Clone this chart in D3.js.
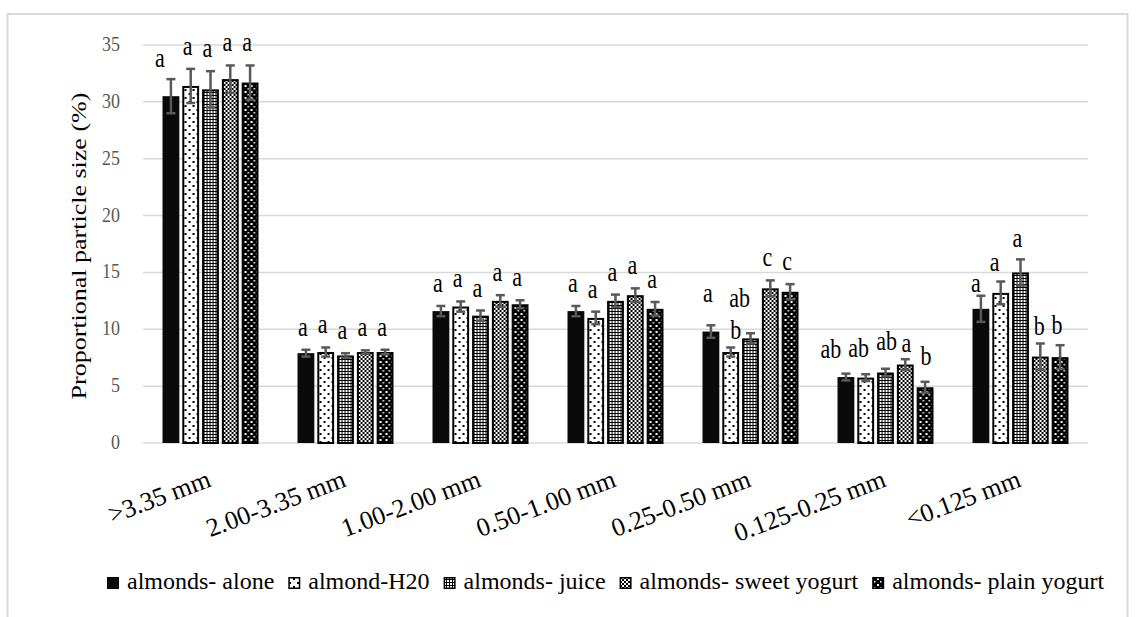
<!DOCTYPE html>
<html>
<head>
<meta charset="utf-8">
<script src="https://cdn.jsdelivr.net/npm/d3@7"></script>
<style>
  html, body { margin: 0; padding: 0; background: #fff; }
  svg text { font-family: "Liberation Serif", "DejaVu Serif", serif; }
</style>
</head>
<body>
<svg id="chart" width="1138" height="617"></svg>
<script>
// Particle size classes (x categories)
const categories = [">3.35 mm", "2.00-3.35 mm", "1.00-2.00 mm", "0.50-1.00 mm", "0.25-0.50 mm", "0.125-0.25 mm", "<0.125 mm"];

// Treatments
const seriesNames = ["almonds- alone", "almond-H20", "almonds- juice", "almonds- sweet yogurt", "almonds- plain yogurt"];

// Mean proportional particle size (%) per treatment, one value per category
const alone       = [30.5, 7.9, 11.6, 11.6, 9.8, 5.8, 11.8];
const water       = [31.4, 8.0, 12.0, 11.0, 8.0, 5.75, 13.2];
const juice       = [31.1, 7.7, 11.2, 12.5, 9.2, 6.2, 15.0];
const sweetYogurt = [32.0, 8.0, 12.5, 13.0, 13.6, 6.9, 7.6];
const plainYogurt = [31.7, 8.0, 12.2, 11.8, 13.3, 4.9, 7.55];

// Error bar half-widths (%)
const aloneErr       = [1.5, 0.3, 0.45, 0.45, 0.55, 0.3, 1.15];
const waterErr       = [1.5, 0.4, 0.45, 0.55, 0.4, 0.3, 1.0];
const juiceErr       = [1.6, 0.2, 0.45, 0.55, 0.45, 0.33, 1.15];
const sweetYogurtErr = [1.2, 0.15, 0.5, 0.6, 0.7, 0.47, 1.15];
const plainYogurtErr = [1.5, 0.2, 0.35, 0.6, 0.67, 0.48, 1.05];

// Significance letters
const aloneSig       = ["a", "a", "a", "a", "a", "ab", "a"];
const waterSig       = ["a", "a", "a", "a", "b", "ab", "a"];
const juiceSig       = ["a", "a", "a", "a", "ab", "ab", "a"];
const sweetYogurtSig = ["a", "a", "a", "a", "c", "a", "b"];
const plainYogurtSig = ["a", "a", "a", "a", "c", "b", "b"];

// Y axis ticks
const yTicks = [0, 5, 10, 15, 20, 25, 30, 35];

const values  = [alone, water, juice, sweetYogurt, plainYogurt];
const errors  = [aloneErr, waterErr, juiceErr, sweetYogurtErr, plainYogurtErr];
const letters = [aloneSig, waterSig, juiceSig, sweetYogurtSig, plainYogurtSig];

const SERIF = "'Liberation Serif', 'DejaVu Serif', serif";

// Hand placement of crowded letters: key "category-series" -> [dx, dy]
const letterNudge = {
  "0-0": [-8, 2],
  "4-0": [0, -9], "4-1": [8, 6], "4-2": [-8, -12],
  "5-0": [-12, -2], "5-1": [-4, -3], "5-2": [4, -5], "5-3": [4, 7], "5-4": [4, -3],
  "6-0": [-2, 10], "6-1": [-3, 3], "6-2": [0, 2], "6-3": [2, 5], "6-4": [0, 3]
};

const svg = d3.select("#chart").attr("font-family", SERIF);
const defs = svg.append("defs");

// Fill patterns for the five treatments
function pattern(id, size, bg, draw) {
  const p = defs.append("pattern")
    .attr("id", id).attr("patternUnits", "userSpaceOnUse")
    .attr("width", size).attr("height", size);
  p.append("rect").attr("width", size).attr("height", size).attr("fill", bg);
  draw(p);
}
pattern("pWater", 8, "#fff", p => {
  p.append("rect").attr("x", 1).attr("y", 1).attr("width", 2).attr("height", 2).attr("fill", "#000");
  p.append("rect").attr("x", 5).attr("y", 5).attr("width", 2).attr("height", 2).attr("fill", "#000");
});
pattern("pJuice", 3, "#000", p => {
  p.append("rect").attr("x", 0).attr("y", 0).attr("width", 2).attr("height", 2).attr("fill", "#fff");
});
pattern("pSweet", 4, "#fff", p => {
  p.append("rect").attr("x", 0).attr("y", 0).attr("width", 2).attr("height", 2).attr("fill", "#000");
  p.append("rect").attr("x", 2).attr("y", 2).attr("width", 2).attr("height", 2).attr("fill", "#000");
});
pattern("pPlain", 6, "#000", p => {
  p.append("rect").attr("x", 1).attr("y", 1).attr("width", 2).attr("height", 2).attr("fill", "#fff");
  p.append("rect").attr("x", 4).attr("y", 4).attr("width", 1.5).attr("height", 1.5).attr("fill", "#fff");
});
const fills = ["#0a0a0a", "url(#pWater)", "url(#pJuice)", "url(#pSweet)", "url(#pPlain)"];

// Outer chart border
svg.append("rect")
  .attr("x", 7.5).attr("y", 14).attr("width", 1120).attr("height", 620)
  .attr("fill", "none").attr("stroke", "#d9d9d9").attr("stroke-width", 2);

const plot = { left: 143, right: 1088, top: 45, bottom: 443 };

const y = d3.scaleLinear().domain([0, 35]).range([plot.bottom, plot.top]);
const x0 = d3.scaleBand().domain(d3.range(categories.length))
  .range([plot.left, plot.right]).paddingInner(0.245).paddingOuter(0.1225);
const x1 = d3.scaleBand().domain(d3.range(seriesNames.length))
  .range([0, x0.bandwidth()]).padding(0.15);

// Gridlines
svg.append("g").selectAll("line").data(yTicks).join("line")
  .attr("x1", plot.left).attr("x2", plot.right)
  .attr("y1", d => y(d)).attr("y2", d => y(d))
  .attr("stroke", "#d9d9d9").attr("stroke-width", 1.5);

// Y tick labels
svg.append("g").selectAll("text").data(yTicks).join("text")
  .attr("transform", d => `translate(120,${y(d) + 6}) scale(1,1.12)`)
  .attr("text-anchor", "end")
  .attr("font-family", SERIF)
  .attr("font-size", 18).attr("fill", "#595959")
  .text(d => d);

// Y axis title
svg.append("text")
  .attr("transform", `translate(86,${(plot.top + plot.bottom) / 2 + 2}) rotate(-90) scale(1.3,1)`)
  .attr("text-anchor", "middle")
  .attr("font-family", SERIF)
  .attr("font-size", 20).attr("fill", "#000")
  .text("Proportional particle size (%)");

// Bars
const groups = svg.append("g").selectAll("g").data(categories).join("g")
  .attr("transform", (d, i) => `translate(${x0(i)},0)`);

const cells = (ci) => seriesNames.map((s, si) => ({
  ci, si, v: values[si][ci], e: errors[si][ci], t: letters[si][ci]
}));

groups.selectAll("rect").data((d, ci) => cells(ci)).join("rect")
  .attr("x", d => x1(d.si) + (d.si === 0 ? 0 : 1))
  .attr("width", d => x1.bandwidth() - (d.si === 0 ? 0 : 2))
  .attr("y", d => y(d.v) + (d.si === 0 ? 0 : 1))
  .attr("height", d => y(0) - y(d.v) - (d.si === 0 ? 0 : 1))
  .attr("fill", d => fills[d.si])
  .attr("stroke", d => d.si === 0 ? "none" : "#000")
  .attr("stroke-width", 2);

// Error bars
const eb = groups.selectAll("g.err").data((d, ci) => cells(ci)).join("g").attr("class", "err")
  .attr("stroke", "#595959").attr("stroke-width", 2.5);
eb.append("line")
  .attr("x1", d => x1(d.si) + x1.bandwidth() / 2).attr("x2", d => x1(d.si) + x1.bandwidth() / 2)
  .attr("y1", d => y(d.v + d.e)).attr("y2", d => y(d.v - d.e));
eb.append("line")
  .attr("x1", d => x1(d.si) + x1.bandwidth() / 2 - 4.5).attr("x2", d => x1(d.si) + x1.bandwidth() / 2 + 4.5)
  .attr("y1", d => y(d.v + d.e)).attr("y2", d => y(d.v + d.e));
eb.append("line")
  .attr("x1", d => x1(d.si) + x1.bandwidth() / 2 - 4.5).attr("x2", d => x1(d.si) + x1.bandwidth() / 2 + 4.5)
  .attr("y1", d => y(d.v - d.e)).attr("y2", d => y(d.v - d.e));

// Significance letters
groups.selectAll("text.sig").data((d, ci) => cells(ci)).join("text").attr("class", "sig")
  .attr("transform", d => {
    const n = letterNudge[`${d.ci}-${d.si}`] || [0, 0];
    const cx = x1(d.si) + x1.bandwidth() / 2 - 3 + n[0];
    const by = y(d.v + d.e) - 14 + n[1];
    return `translate(${cx},${by}) scale(1,1.2)`;
  })
  .attr("text-anchor", "middle")
  .attr("font-family", SERIF)
  .attr("font-size", 22).attr("fill", "#000")
  .text(d => d.t);

// Category labels (rotated)
svg.append("g").selectAll("text").data(categories).join("text")
  .attr("transform", (d, i) => `translate(${x0(i) + x0.bandwidth() / 2 + 2},486) rotate(-20.5)`)
  .attr("text-anchor", "end")
  .attr("font-family", SERIF)
  .attr("font-size", 26).attr("fill", "#000")
  .text(d => d);

// Legend
const legend = svg.append("g").attr("transform", "translate(0,589)");
let lx = 107;
seriesNames.forEach((name, si) => {
  legend.append("rect")
    .attr("x", lx + (si === 0 ? 0 : 0.75)).attr("y", -12 + (si === 0 ? 0 : 0.75))
    .attr("width", si === 0 ? 12 : 10.5).attr("height", si === 0 ? 12 : 10.5)
    .attr("fill", fills[si])
    .attr("stroke", si === 0 ? "none" : "#000").attr("stroke-width", 1.5);
  const t = legend.append("text")
    .attr("x", lx + 20).attr("y", 0)
    .attr("font-family", SERIF)
    .attr("font-size", 24).attr("fill", "#000")
    .text(name);
  lx += 20 + t.node().getComputedTextLength() + 14;
});
</script>
</body>
</html>
